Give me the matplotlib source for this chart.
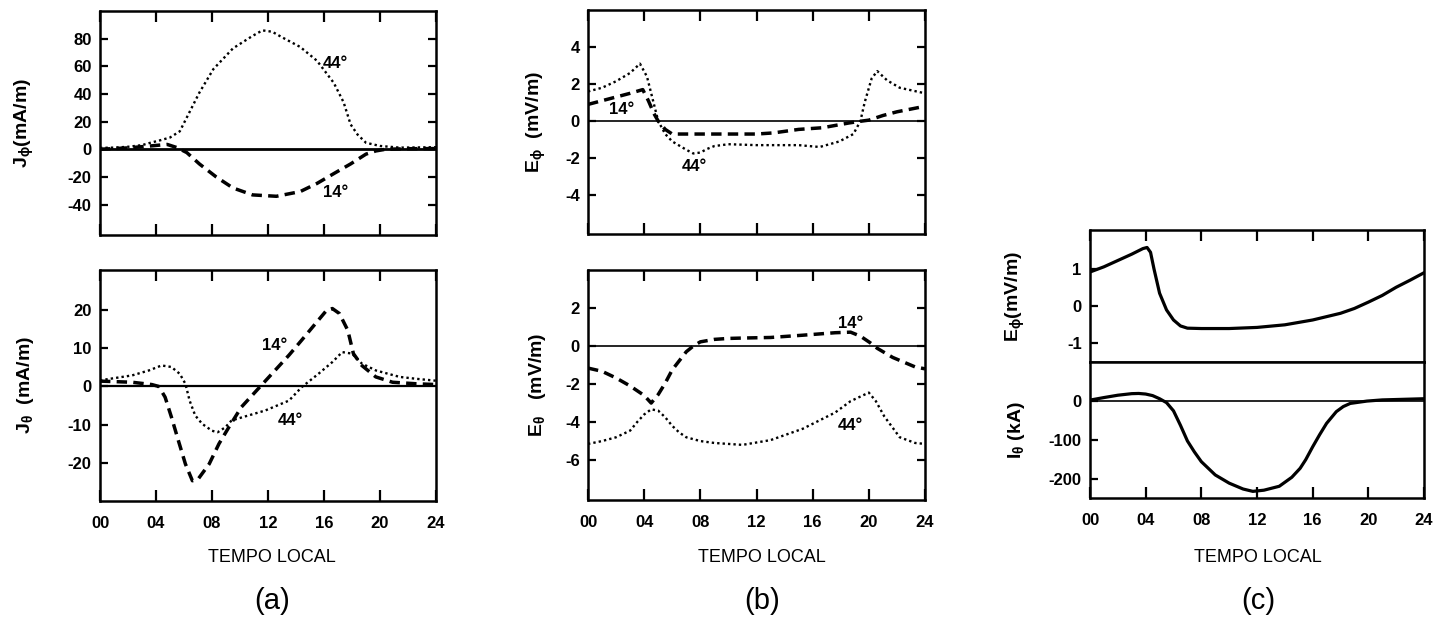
import matplotlib
matplotlib.use("Agg")
import matplotlib.pyplot as plt

plt.rcParams['font.family'] = ['Liberation Sans', 'DejaVu Sans']
plt.rcParams['axes.unicode_minus'] = False
plt.rcParams['mathtext.fontset'] = 'custom'
plt.rcParams['mathtext.rm'] = 'Liberation Sans:bold'
plt.rcParams['mathtext.it'] = 'Liberation Sans:bold'
plt.rcParams['mathtext.bf'] = 'Liberation Sans:bold'

# ---- data ----
hour_ticks = [0, 4, 8, 12, 16, 20, 24]
hour_labels = ['00', '04', '08', '12', '16', '20', '24']

# (a) top: J_phi (mA/m)
a1_44_h = [0, 1, 2, 3, 3.6, 4.3, 5, 5.7, 6.4, 7.1, 8.1, 9.5, 10.9, 11.6, 12.3, 13,
           14.3, 15.5, 16.7, 17.4, 17.9, 18.4, 19, 20, 21.4, 22.5, 24]
a1_44_v = [1, 1.2, 1.8, 3, 4.7, 6.5, 8.5, 13, 27, 41, 58, 73, 82, 86, 85, 81,
           74, 64, 48, 34, 18, 10.6, 4.7, 2.4, 1.2, 1.3, 1.5]
a1_14_h = [0, 2, 3.6, 4.8, 5.5, 6.2, 7.1, 8.3, 9.5, 10.9, 12.6, 14.3, 15.5, 16.7,
           17.9, 19, 19.7, 20.4, 22, 24]
a1_14_v = [0, 1, 2.4, 3.5, 1.2, -2.4, -10.6, -20, -28, -33, -34, -30.6, -24.7, -17.6,
           -10.6, -3.5, -1.2, 0, 0.4, 0.5]

# (a) bottom: J_theta (mA/m)
a2_44_h = [0, 2.3, 3.5, 4.4, 5.1, 5.7, 6.1, 6.4, 6.8, 7.3, 8, 8.4, 8.95, 9.4, 11.8,
           13.5, 14.4, 15.6, 16.6, 17.3, 18, 18.7, 19.7, 21.4, 22.6, 24]
a2_44_v = [1.6, 2.9, 4.2, 5.5, 5.1, 3.3, 0.7, -3.7, -7.6, -9.8, -11.6, -12, -10.7, -8.9, -6.3,
           -3.7, -0.2, 3.3, 6.4, 9, 8.6, 6, 4.2, 2.5, 2, 1.5]
a2_14_h = [0, 2.3, 3.7, 4.2, 4.65, 5.1, 5.6, 6.1, 6.6, 7, 7.8, 8.5, 9.2, 10.1, 11.3,
           12.5, 13.5, 14.4, 15.4, 16.2, 16.6, 17.1, 17.7, 18.1, 18.7, 19.7, 20.9, 22.6, 24]
a2_14_v = [1.4, 1.1, 0.5, 0, -2.8, -8, -14.2, -20.3, -24.7, -24.3, -20.3, -15, -10.7, -5.4, -0.6,
           4.2, 8.2, 12.1, 16.5, 20, 20.4, 19.1, 14.7, 8.6, 5.5, 2.5, 1.1, 0.7, 0.5]

# (b) top: E_phi (mV/m)
b1_44_h = [0, 1, 2, 3, 3.7, 4.2, 4.6, 5, 5.5, 6, 7, 7.5, 8, 8.5, 9, 10, 12, 14, 15,
           16.5, 17.9, 18.9, 19.4, 19.7, 20.2, 20.6, 21.3, 22.2, 24]
b1_44_v = [1.6, 1.8, 2.15, 2.6, 3.1, 2.4, 1.2, 0, -0.7, -1.1, -1.55, -1.75, -1.7, -1.5, -1.35,
           -1.25, -1.3, -1.3, -1.3, -1.4, -1.1, -0.7, 0, 1.0, 2.3, 2.7, 2.2, 1.8, 1.5]
b1_14_h = [0, 1, 2, 3, 3.9, 4.3, 4.7, 5, 5.5, 6, 8, 12, 13.2, 15, 16.7, 18.6, 19.5,
           20, 21, 22, 23, 24]
b1_14_v = [0.9, 1.1, 1.3, 1.5, 1.7, 1.1, 0.4, 0, -0.45, -0.7, -0.7, -0.7, -0.64, -0.45,
           -0.36, -0.1, 0, 0.05, 0.3, 0.5, 0.65, 0.8]

# (b) bottom: E_theta (mV/m)
b2_14_h = [0, 1, 2, 3, 4, 4.5, 5, 5.5, 6, 7, 7.5, 8, 9, 10, 11, 13, 15.3, 17.6, 18.7,
           19.4, 20.1, 20.6, 21.7, 23.3, 24]
b2_14_v = [-1.16, -1.33, -1.68, -2.1, -2.6, -3.0, -2.55, -1.95, -1.25, -0.3, 0, 0.22, 0.35,
           0.4, 0.42, 0.45, 0.57, 0.7, 0.73, 0.52, 0.17, -0.12, -0.6, -1.1, -1.2]
b2_44_h = [0, 1, 2, 3, 3.5, 4, 4.5, 5, 5.5, 6, 6.5, 7, 8, 9, 10, 11, 13, 15.3, 17.6,
           18.7, 20, 20.5, 21.1, 22.2, 23.3, 24]
b2_44_v = [-5.15, -5.0, -4.8, -4.45, -4.0, -3.6, -3.33, -3.4, -3.75, -4.2, -4.55, -4.8, -5.0,
           -5.1, -5.15, -5.2, -4.95, -4.35, -3.5, -2.9, -2.45, -2.9, -3.7, -4.8, -5.1, -5.15]

# (c) top: E_phi (mV/m)
c1_h = [0, 1, 2, 3, 3.8, 4.1, 4.35, 4.6, 5, 5.5, 6, 6.5, 7, 8, 10, 12, 14, 16, 18, 19,
        20, 21, 22, 23, 24]
c1_v = [0.92, 1.06, 1.23, 1.4, 1.55, 1.58, 1.45, 1.0, 0.35, -0.1, -0.37, -0.53, -0.59, -0.6,
        -0.6, -0.57, -0.5, -0.37, -0.19, -0.06, 0.11, 0.29, 0.51, 0.7, 0.9]

# (c) bottom: I_theta (kA)
c2_h = [0, 1, 2, 3, 3.5, 4, 4.5, 5, 5.5, 6, 6.5, 7, 7.5, 8, 8.5, 9, 10, 11, 11.7, 12.5,
        13.6, 14.5, 15.1, 15.5, 16, 16.5, 17, 17.7, 18.2, 18.7, 19.9, 21, 22, 24]
c2_v = [2.5, 9, 15, 19, 19.5, 18, 14, 6, -4, -25, -62, -102, -130, -155, -172, -189, -210,
        -225, -231, -228, -218, -195, -172, -150, -117, -86, -57, -27, -14, -6, 0, 3, 4, 6]

# ---- layout helpers ----
W, H = 1437, 623
fig = plt.figure(figsize=(14.37, 6.23), dpi=100)


def box(l, t, r, b):
    return [l / W, 1 - b / H, (r - l) / W, (b - t) / H]


def style(ax, yticks, ylim, ylabel, lx, top=True, bottom=True, right=True, xlabels=False):
    ax.set_xlim(0, 24)
    ax.set_ylim(*ylim)
    ax.set_xticks(hour_ticks)
    ax.set_yticks(yticks)
    ax.set_yticklabels([str(t) for t in yticks])
    if xlabels:
        ax.set_xticklabels(hour_labels)
    else:
        ax.set_xticklabels([])
    ax.tick_params(axis='x', direction='in', length=8, width=1.6, top=top, bottom=bottom,
                   labelsize=12, pad=11)
    ax.tick_params(axis='y', direction='in', length=6, width=1.6, right=right,
                   labelsize=12, pad=6)
    for lab in ax.get_xticklabels() + ax.get_yticklabels():
        lab.set_fontweight('bold')
    for s in ax.spines.values():
        s.set_linewidth(1.8)
    ax.set_ylabel(ylabel, fontsize=14, fontweight='bold')
    ax.yaxis.set_label_coords(lx, 0.5)


dash = dict(color='k', lw=2.5, dashes=(3, 1.8))
dot = dict(color='k', lw=1.7, linestyle=(0, (1, 1.3)))
lbl = dict(fontsize=12, fontweight='bold', ha='center', va='center')

# (a) top
ax = fig.add_axes(box(100, 11, 436, 235))
ax.axhline(0, color='k', lw=2)
ax.plot(a1_44_h, a1_44_v, **dot)
ax.plot(a1_14_h, a1_14_v, **dash)
ax.text(16.8, 62, '44°', **lbl)
ax.text(16.8, -31, '14°', **lbl)
style(ax, [-40, -20, 0, 20, 40, 60, 80], (-62, 100), r'J$_\phi$(mA/m)', -0.19)

# (a) bottom
ax = fig.add_axes(box(100, 270, 436, 501))
ax.axhline(0, color='k', lw=1.6)
ax.plot(a2_44_h, a2_44_v, **dot)
ax.plot(a2_14_h, a2_14_v, **dash)
ax.text(12.5, 10.8, '14°', **lbl)
ax.text(13.6, -9, '44°', **lbl)
style(ax, [-20, -10, 0, 10, 20], (-30, 30.5), r'J$_\theta$  (mA/m)', -0.19, right=False,
      xlabels=True)

# (b) top
ax = fig.add_axes(box(588, 10, 925, 234))
ax.axhline(0, color='k', lw=1.2)
ax.plot(b1_44_h, b1_44_v, **dot)
ax.plot(b1_14_h, b1_14_v, **dash)
ax.text(2.4, 0.6, '14°', **lbl)
ax.text(7.6, -2.45, '44°', **lbl)
style(ax, [-4, -2, 0, 2, 4], (-6.1, 6), r'E$_\phi$  (mV/m)', -0.12)

# (b) bottom
ax = fig.add_axes(box(588, 270, 925, 500))
ax.axhline(0, color='k', lw=1.2)
ax.plot(b2_44_h, b2_44_v, **dot)
ax.plot(b2_14_h, b2_14_v, **dash)
ax.text(18.7, 1.2, '14°', **lbl)
ax.text(18.7, -4.2, '44°', **lbl)
style(ax, [-6, -4, -2, 0, 2], (-8.1, 4), r'E$_\theta$   (mV/m)', -0.12, xlabels=True)

# (c) top
ax = fig.add_axes(box(1090, 230, 1424, 362))
ax.plot(c1_h, c1_v, color='k', lw=2.3)
style(ax, [-1, 0, 1], (-1.5, 2.05), r'E$_\phi$(mV/m)', -0.19, bottom=False, right=False)

# (c) bottom
ax = fig.add_axes(box(1090, 362, 1424, 498))
ax.axhline(0, color='k', lw=1.2)
ax.plot(c2_h, c2_v, color='k', lw=2.3)
style(ax, [-200, -100, 0], (-248, 100), r'I$_\theta$ (kA)', -0.19, top=False, right=False,
      xlabels=True)

# bottom captions
for cx, tag in [(272, '(a)'), (762, '(b)'), (1258, '(c)')]:
    fig.text(cx / W, 1 - 557 / H, 'TEMPO LOCAL', fontsize=13, ha='center', va='center')
    fig.text(cx / W, 1 - 601 / H, tag, fontsize=21, ha='center', va='center')

fig.savefig('out.png', dpi=100)
